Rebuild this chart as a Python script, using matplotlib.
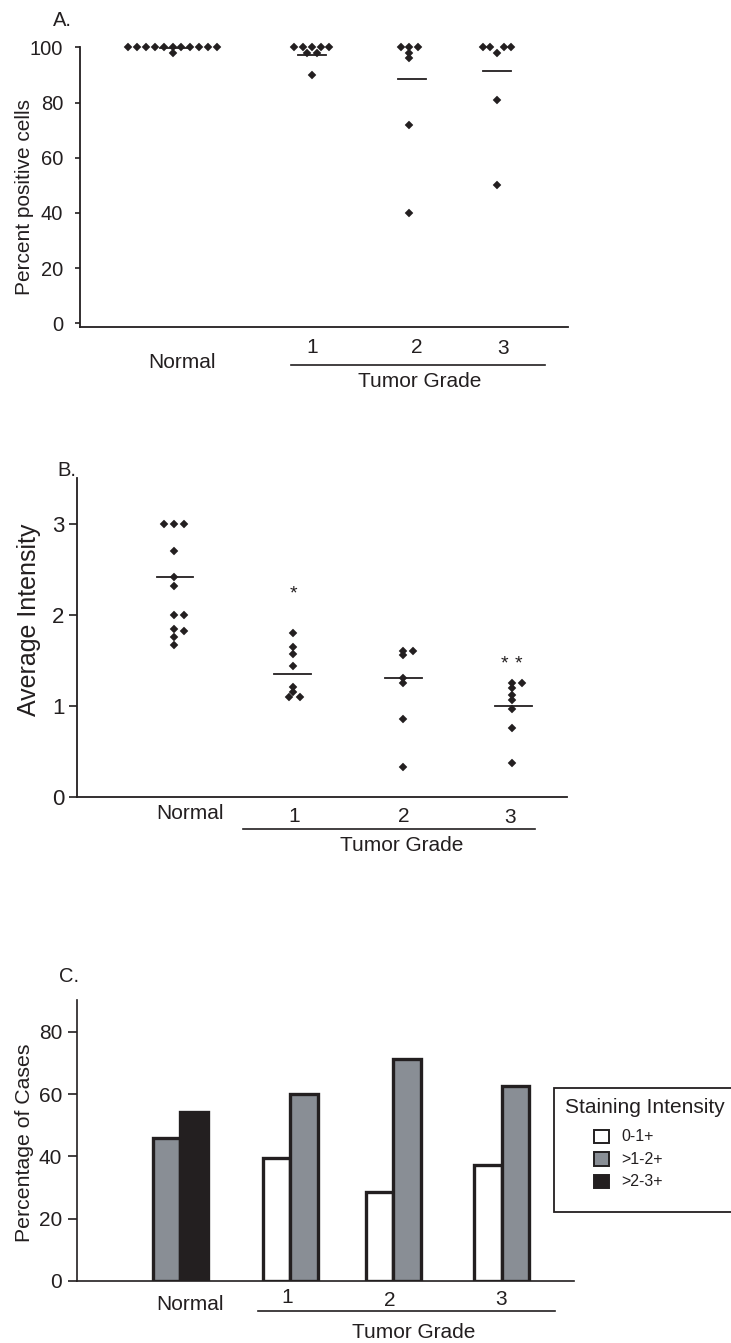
import numpy as np
import matplotlib
matplotlib.use('Agg')
import matplotlib.pyplot as plt
from matplotlib.patches import Rectangle

plt.rcParams['font.family'] = ['Liberation Sans', 'DejaVu Sans']
INK = '#231f20'
plt.rcParams['text.color'] = INK
plt.rcParams['axes.edgecolor'] = INK
plt.rcParams['xtick.color'] = INK
plt.rcParams['ytick.color'] = INK

# ------------------------------------------------------------------ data
categories = ['Normal', '1', '2', '3']
group_title = 'Tumor Grade'

# Panel A: percent positive cells
a_ylabel = 'Percent positive cells'
a_normal = [100, 100, 100, 100, 100, 100, 100, 100, 100, 100, 100, 98]
a_grade1 = [100, 100, 100, 100, 100, 98, 98, 90]
a_grade2 = [100, 100, 100, 98, 96, 72, 40]
a_grade3 = [100, 100, 100, 100, 98, 81, 50]
a_means = [99.7, 97.2, 88.4, 91.5]
a_yticks = [0, 20, 40, 60, 80, 100]

# Panel B: average intensity
b_ylabel = 'Average Intensity'
b_normal = [3.0, 3.0, 3.0, 2.70, 2.42, 2.32, 2.0, 2.0, 1.84, 1.82, 1.76, 1.67]
b_grade1 = [1.80, 1.65, 1.57, 1.44, 1.21, 1.15, 1.10, 1.10]
b_grade2 = [1.60, 1.60, 1.56, 1.30, 1.25, 0.85, 0.33]
b_grade3 = [1.25, 1.25, 1.19, 1.12, 1.06, 0.96, 0.75, 0.37]
b_means = [2.41, 1.35, 1.30, 1.00]
b_sig = ['', '*', '', '**']
b_sig_y = [np.nan, 2.23, np.nan, 1.46]
b_yticks = [0, 1, 2, 3]

# Panel C: percentage of cases by staining intensity
c_ylabel = 'Percentage of Cases'
c_legend_title = 'Staining Intensity'
c_series = ['0-1+', '>1-2+', '>2-3+']
c_low = [np.nan, 39.6, 28.6, 37.2]
c_mid = [45.8, 60.0, 71.2, 62.6]
c_high = [54.3, np.nan, np.nan, np.nan]
c_yticks = [0, 20, 40, 60, 80]

# ------------------------------------------------------------------ layout (pixels)
W, H = 731, 1343
DPI = 100
fig = plt.figure(figsize=(W / DPI, H / DPI), dpi=DPI)
fig.patch.set_facecolor('white')


def rect(l, t, r, b):
    return [l / W, 1 - b / H, (r - l) / W, (b - t) / H]


def ftext(x, y, s, **kw):
    fig.text(x / W, 1 - y / H, s, **kw)


def fline(x0, x1, y, lw=1.2):
    fig.add_artist(plt.Line2D([x0 / W, x1 / W], [1 - y / H, 1 - y / H],
                              transform=fig.transFigure, color=INK, lw=lw))


def style_axes(ax, lw=1.3):
    for s in ['top', 'right']:
        ax.spines[s].set_visible(False)
    for s in ['left', 'bottom']:
        ax.spines[s].set_linewidth(lw)
    ax.tick_params(axis='x', bottom=False, labelbottom=False)
    ax.set_facecolor('none')


MARK = dict(marker='D', ms=3.7, color=INK, mew=0.3, mec=INK, ls='none', clip_on=False, zorder=3)

# ------------------------------------------------------------------ Panel A
axA = fig.add_axes(rect(80, 47.3, 568, 327.3))
style_axes(axA)
axA.set_xlim(80, 568)
axA.set_ylim(-1.4, 100)
axA.set_yticks(a_yticks)
axA.tick_params(axis='y', length=3.5, width=1.2, pad=8.5, labelsize=14.5)

a_groups = [a_normal, a_grade1, a_grade2, a_grade3]
a_centers = [172.5, 311.7, 409.3, 496.7]
a_offsets = [np.array([-5, -4, -3, -2, -1, 0, 1, 2, 3, 4, 5, 0.1]) * 8.96,
             np.array([-2, -1, 0, 1, 2, -0.55, 0.55, 0]) * 8.8,
             np.array([-1, 0, 1, 0, 0, 0, 0]) * 8.3,
             np.array([-2, -1, 1, 2, 0, 0, 0]) * 7.0]
a_mean_centers = [173.5, 311.7, 412.0, 497.0]
for vals, c, off, mc, m in zip(a_groups, a_centers, a_offsets, a_mean_centers, a_means):
    axA.plot(c + off, vals, **MARK)
    axA.plot([mc - 14, mc + 14], [m, m], color=INK, lw=1.3, clip_on=False, zorder=2)

ftext(25, 196.7, a_ylabel, rotation=90, ha='center', va='center', fontsize=15)
ftext(62, 21, 'A.', ha='center', va='center', fontsize=14.5)
for lab, x, y in zip(categories, [182, 312, 417, 503], [368.3, 353, 353, 354]):
    ftext(x, y, lab, ha='center', va='baseline', fontsize=15)
fline(290.7, 545, 365)
ftext(420, 386.7, group_title, ha='center', va='baseline', fontsize=15)

# ------------------------------------------------------------------ Panel B
axB = fig.add_axes(rect(77.3, 478.3, 567, 796.7))
style_axes(axB)
axB.set_xlim(77.3, 567)
axB.set_ylim(0, 3.5)
axB.set_yticks(b_yticks)
axB.tick_params(axis='y', length=5.8, width=1.2, pad=3.5, labelsize=16)

b_groups = [b_normal, b_grade1, b_grade2, b_grade3]
b_centers = [174, 293.3, 402.7, 511.7]
b_offsets = [np.array([-1, 0, 1, 0, 0, 0, 0, 1, 0, 1, 0, 0]) * 10.0,
             np.array([0, 0, 0, 0, 0, 0, -0.45, 0.65]) * 10.0,
             np.array([0, 1, 0, 0, 0, 0, 0]) * 10.0,
             np.array([0, 1, 0, 0, 0, 0, 0, 0]) * 10.0]
b_mean_centers = [175, 292.7, 403.3, 513.3]
for vals, c, off, mc, m in zip(b_groups, b_centers, b_offsets, b_mean_centers, b_means):
    axB.plot(c + off, vals, **MARK)
    axB.plot([mc - 18.3, mc + 18.3], [m, m], color=INK, lw=1.3, clip_on=False, zorder=2)
for s, y, c in zip(b_sig, b_sig_y, b_centers):
    n = len(s)
    for k in range(n):
        x = c + (k - (n - 1) / 2) * 14.3
        axB.text(x, y, '*', ha='center', va='center', fontsize=14)

ftext(29, 620, b_ylabel, rotation=90, ha='center', va='center', fontsize=18)
ftext(67, 470, 'B.', ha='center', va='center', fontsize=14.5)
for lab, x, y in zip(categories, [190, 294.3, 404, 510], [819, 821.7, 821.7, 822.7]):
    ftext(x, y, lab, ha='center', va='baseline', fontsize=15)
fline(243.3, 535, 829.3)
ftext(401.7, 850.7, group_title, ha='center', va='baseline', fontsize=15)

# ------------------------------------------------------------------ Panel C
axC = fig.add_axes(rect(77.3, 1000, 574, 1281))
style_axes(axC, lw=1.2)
axC.set_xlim(77.3, 574)
axC.set_ylim(0, 90.2)
axC.set_yticks(c_yticks)
axC.tick_params(axis='y', length=6.5, width=1.2, pad=4.5, labelsize=15)

c_colors = ['white', '#898e95', INK]
c_vals = [c_low, c_mid, c_high]
c_centers = [180, 290, 393.3, 501.7]
bar_w = 27.5
for gi, c in enumerate(c_centers):
    present = [si for si in range(len(c_series)) if not np.isnan(c_vals[si][gi])]
    for slot, si in enumerate(present):
        left = c - bar_w if slot == 0 else c
        axC.bar(left, c_vals[si][gi], width=bar_w, align='edge', color=c_colors[si],
                edgecolor=INK, linewidth=2.4, zorder=2)

ftext(25, 1142.5, c_ylabel, rotation=90, ha='center', va='center', fontsize=15.3)
ftext(69, 976, 'C.', ha='center', va='center', fontsize=14.5)
for lab, x, y in zip(categories, [190, 287.3, 390, 500.7], [1310, 1302.7, 1305.7, 1305]):
    ftext(x, y, lab, ha='center', va='baseline', fontsize=15)
fline(258.3, 555, 1311)
ftext(413.3, 1338.3, group_title, ha='center', va='baseline', fontsize=15)

# legend (box runs off the right edge as in the original)
fig.add_artist(Rectangle((554 / W, 1 - 1212 / H), (745 - 554) / W, (1212 - 1088) / H,
                         transform=fig.transFigure, facecolor='white', edgecolor=INK,
                         lw=1.3, zorder=1))
ftext(565, 1107.7, c_legend_title, ha='left', va='center', fontsize=15)
for i, (lab, col) in enumerate(zip(c_series, c_colors)):
    yc = 1136.7 + i * 22.3
    fig.add_artist(Rectangle((593.5 / W, 1 - (yc + 6.7) / H), 15.5 / W, 13.4 / H,
                             transform=fig.transFigure, facecolor=col, edgecolor=INK,
                             lw=1.4, zorder=2))
    ftext(621.7, yc, lab, ha='left', va='center', fontsize=11.5)

fig.savefig('out.png', dpi=DPI, facecolor='white')
